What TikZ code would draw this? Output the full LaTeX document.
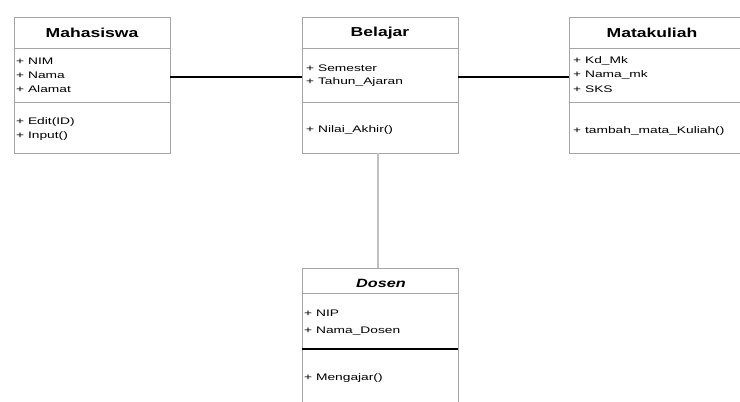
\documentclass[tikz,border=0pt]{standalone}
\usepackage{fontspec}
\setmainfont{Liberation Sans}
\newfontfamily\wideitem[FakeStretch=1.45]{Liberation Sans}
\newfontfamily\widetitle[FakeStretch=1.35]{Liberation Sans}
\begin{document}
\begin{tikzpicture}[x=1pt,y=-1pt,
  classbox/.style={draw=black!35, line width=0.9pt, minimum width=156pt, inner sep=0pt},
  sep/.style={draw=black!35, line width=0.9pt},
  thicksep/.style={draw=black, line width=2.2pt},
  title/.style={font=\widetitle\fontsize{13}{14}\selectfont\bfseries, anchor=center},
  item/.style={font=\wideitem\fontsize{9.5}{10}\selectfont, anchor=west, inner sep=0pt},
  assoc/.style={draw=black, line width=2.6pt},
  link/.style={draw=black!25, line width=2pt}]
\useasboundingbox (0,0) rectangle (740,402);
\clip (0,0) rectangle (740,402);
% Mahasiswa
\node[classbox, minimum height=136pt] (mhs) at (92,85) {};
\draw[sep] (14,48) -- (170,48);
\draw[sep] (14,102) -- (170,102);
\node[title] (mhsT) at (92,33) {Mahasiswa};
\node[item] (m1) at (16,61) {+ NIM};
\node[item] (m2) at (16,75) {+ Nama};
\node[item] (m3) at (16,89) {+ Alamat};
\node[item] (m4) at (16,122) {+ Edit(ID)};
\node[item] (m5) at (16,136) {+ Input()};
% Belajar
\node[classbox, minimum height=136pt] (bel) at (380,85) {};
\draw[sep] (302,48) -- (458,48);
\draw[sep] (302,102) -- (458,102);
\node[title] (belT) at (380,33) {Belajar};
\node[item] (b1) at (306,68) {+ Semester};
\node[item] (b2) at (306,82) {+ Tahun\_Ajaran};
\node[item] (b3) at (306,130) {+ Nilai\_Akhir()};
% Matakuliah
\node[classbox, minimum height=136pt, minimum width=180pt] (mk) at (659,85) {};
\draw[sep] (569,48) -- (749,48);
\draw[sep] (569,102) -- (749,102);
\node[title] (mkT) at (652,33) {Matakuliah};
\node[item] (k1) at (573,61) {+ Kd\_Mk};
\node[item] (k2) at (573,75) {+ Nama\_mk};
\node[item] (k3) at (573,89) {+ SKS};
\node[item] (k4) at (573,131) {+ tambah\_mata\_Kuliah()};
% Dosen
\node[classbox, minimum height=150pt] (dsn) at (380,343) {};
\draw[sep] (302,293) -- (458,293);
\draw[thicksep] (302,349) -- (458,349);
\node[title, font=\widetitle\fontsize{12}{13}\selectfont\bfseries\itshape] (dsnT) at (381,283) {Dosen};
\node[item] (d1) at (304,313) {+ NIP};
\node[item] (d2) at (304,331) {+ Nama\_Dosen};
\node[item] (d3) at (304,378) {+ Mengajar()};
% connectors
\draw[assoc] ([yshift=8pt]mhs.east) -- ([yshift=8pt]bel.west);
\draw[assoc] ([yshift=8pt]bel.east) -- ([yshift=8pt]mk.west);
\draw[link] ([xshift=-2pt]bel.south) -- ([xshift=-2pt]dsn.north);
\end{tikzpicture}
\end{document}
